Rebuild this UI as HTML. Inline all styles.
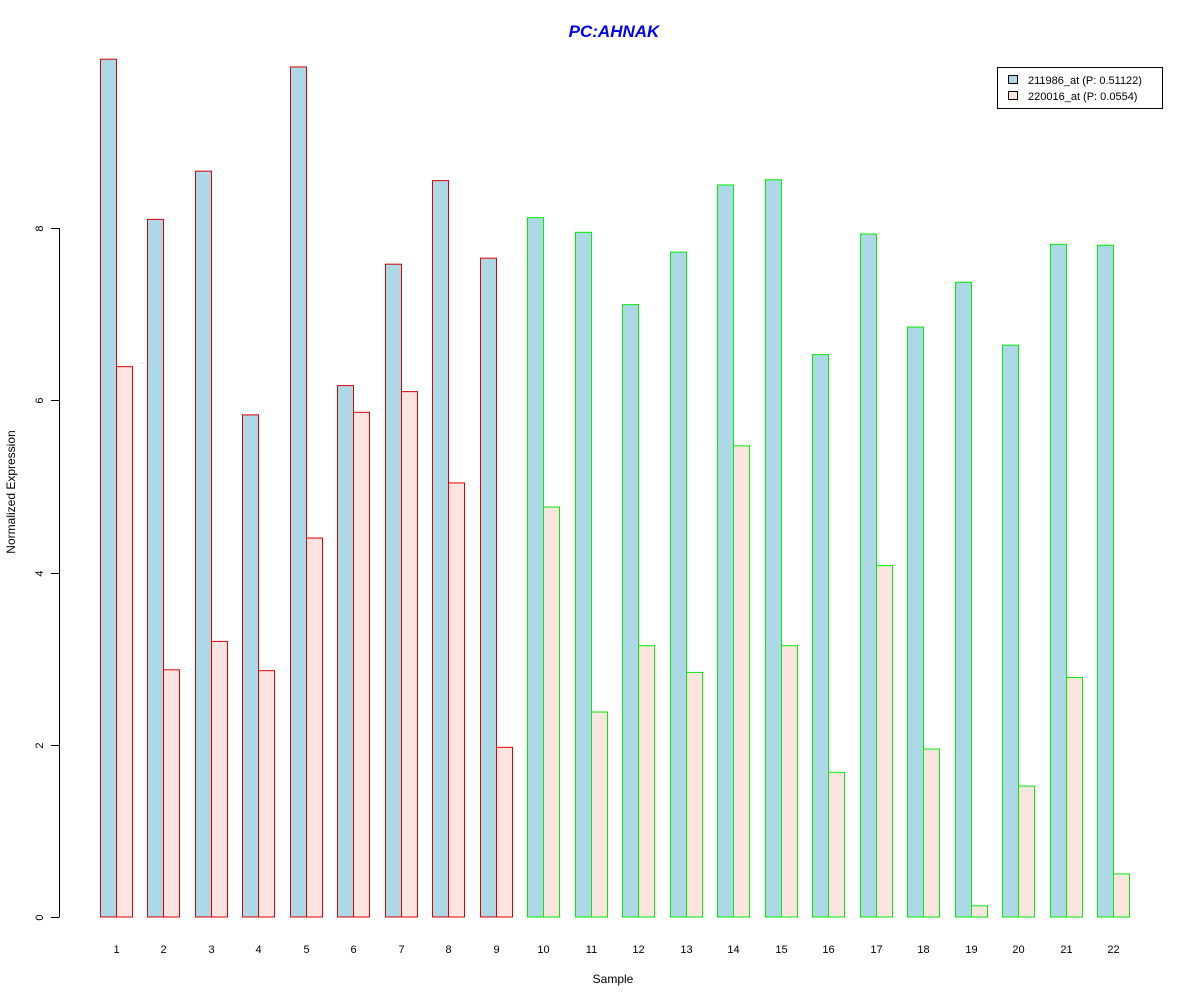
<!DOCTYPE html>
<html><head><meta charset="utf-8"><style>body{margin:0;background:#fff}svg text{font-family:"Liberation Sans",Arial,sans-serif}</style></head>
<body>
<svg id="chart" width="1200" height="1000" xmlns="http://www.w3.org/2000/svg">
<rect width="1200" height="1000" fill="#fff"/>
<text x="614" y="37" text-anchor="middle" font-size="17" font-weight="bold" font-style="italic" fill="#0000ee">PC:AHNAK</text>
<text x="613" y="983" text-anchor="middle" font-size="12">Sample</text>
<text transform="translate(15,492) rotate(-90)" text-anchor="middle" font-size="12">Normalized Expression</text>
<g id="yaxis"></g>
<g id="bars"></g>
<g id="xlabels"></g>
<g>
<rect x="997.5" y="67.5" width="165" height="41" fill="#fff" stroke="#000"/>
<rect x="1008.5" y="75.5" width="9" height="8" fill="#ADD8E6" stroke="#000"/>
<text x="1028" y="84" font-size="11">211986_at (P: 0.51122)</text>
<rect x="1008.5" y="91.5" width="9" height="8" fill="#FFE4E1" stroke="#000"/>
<text x="1028" y="100" font-size="11">220016_at (P: 0.0554)</text>
</g>
</svg>
<script>
const categories = ["1","2","3","4","5","6","7","8","9","10","11","12","13","14","15","16","17","18","19","20","21","22"];
const series211986 = [9.96,8.10,8.66,5.83,9.87,6.17,7.58,8.55,7.65,8.12,7.95,7.11,7.72,8.50,8.56,6.53,7.93,6.85,7.37,6.64,7.81,7.80];
const series220016 = [6.39,2.87,3.20,2.86,4.40,5.86,6.10,5.04,1.97,4.76,2.38,3.15,2.84,5.47,3.15,1.68,4.08,1.95,0.13,1.52,2.78,0.50];
const groups = ["a","a","a","a","a","a","a","a","a","b","b","b","b","b","b","b","b","b","b","b","b","b"];
const yTicks = [0,2,4,6,8];
const NS="http://www.w3.org/2000/svg";
const y0=917, pxPer=86.125, x0=100, step=47.48, bw=16;
const yScale=v=>y0-v*pxPer;
const xScale=i=>x0+i*step;
function mk(tag,attrs,parent){const e=document.createElementNS(NS,tag);for(const k in attrs)e.setAttribute(k,attrs[k]);parent.appendChild(e);return e;}
const yaxis=document.getElementById('yaxis');
mk('line',{x1:59.5,x2:59.5,y1:yScale(8),y2:yScale(0),stroke:'#000'},yaxis);
yTicks.forEach(t=>{
  const yy=Math.round(yScale(t))+0.5;
  const l=mk('line',{x1:51,x2:59.5,y1:yy,y2:yy,stroke:'#000'},yaxis);
  
  
  const tx=mk('text',{transform:`translate(43,${yy}) rotate(-90)`,'text-anchor':'middle','font-size':11},yaxis);
  
  
  tx.textContent=t;
});
const bars=document.getElementById('bars'), xl=document.getElementById('xlabels');
categories.forEach((c,i)=>{
  const stroke=groups[i]==='a'?'#dd0000':'#00ee00';
  const pink=groups[i]==='a'?'#FFE4E1':'#FAE6DE';
  const x=Math.round(xScale(i))+0.5;
  const v1=series211986[i], v2=series220016[i];
  const r1=mk('rect',{x:x,y:yScale(v1),width:bw,height:v1*pxPer,fill:'#ADD8E6',stroke:stroke},bars);
  
  
  const r2=mk('rect',{x:x+bw,y:yScale(v2),width:bw,height:v2*pxPer,fill:pink,stroke:stroke},bars);
  
  
  const t=mk('text',{x:x+bw,y:953,'text-anchor':'middle','font-size':11},xl);
  
  
  t.textContent=c;
});
</script>
</body></html>
